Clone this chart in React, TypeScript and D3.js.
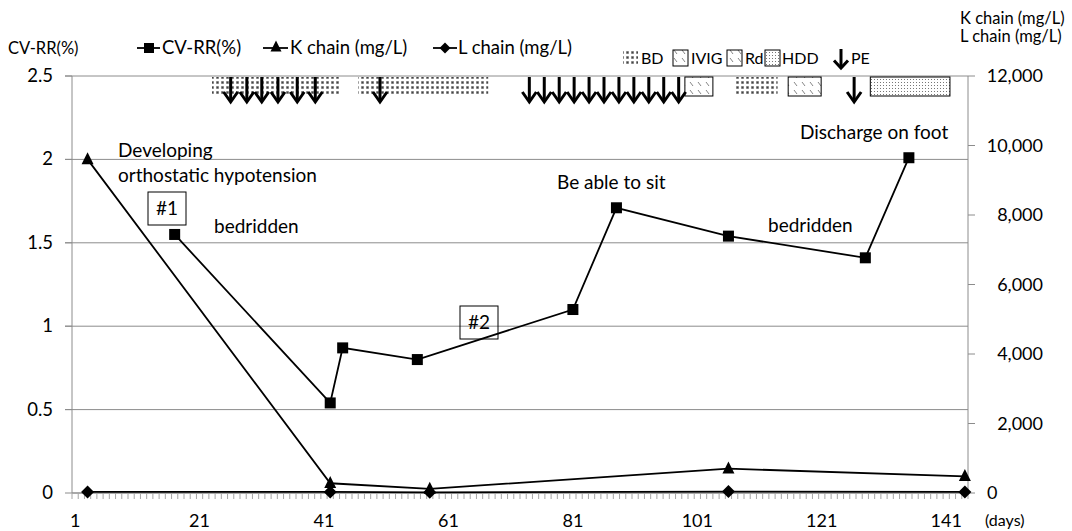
import React from 'react';
import * as d3 from 'd3';

// CV-RR (%), left axis
const cvDays = [17, 42, 44, 56, 81, 88, 106, 128, 135];
const cvValues = [1.55, 0.54, 0.87, 0.8, 1.1, 1.71, 1.54, 1.41, 2.01];

// light chains (mg/L), right axis
const chainDays = [3, 42, 58, 106, 144];
const kValues = [9600, 280, 120, 700, 480];
const lValues = [30, 30, 20, 40, 30];

const dayCount = 144;
const xTicks = [1, 21, 41, 61, 81, 101, 121, 141];
const leftTicks = [0, 0.5, 1, 1.5, 2, 2.5];
const rightTicks = [0, 2000, 4000, 6000, 8000, 10000, 12000];

// treatments (days)
const peDays = [26, 28.6, 31, 33.6, 36.7, 39.6, 50, 74, 76.4, 78.8, 81.2, 83.6, 86, 88.4, 90.8, 93.2, 95.6, 98, 126.2];
const bdPeriods: [number, number][] = [[23, 43.6], [46.5, 67.4], [107, 113.9]];
const ivigPeriods: [number, number][] = [[99, 103.5]];
const rdPeriods: [number, number][] = [[115.6, 120.9]];
const hddPeriods: [number, number][] = [[128.8, 141.6]];

const W = 1072;
const H = 531;
const FONT = 'Lato, "Open Sans", sans-serif';

const x = d3.scaleLinear().domain([0.5, dayCount + 0.5]).range([72, 968]);
const yL = d3.scaleLinear().domain([0, 2.5]).range([493, 76]);
const yR = d3.scaleLinear().domain([0, 12000]).range([493, 76]);

const fmt = d3.format(',');

function Arrow({ cx, top, bottom }: { cx: number; top: number; bottom: number }) {
  const head = (bottom - top) * 0.4;
  return (
    <g stroke="#000" strokeWidth={3} fill="none">
      <line x1={cx} x2={cx} y1={top} y2={bottom - 1} />
      <path d={`M${cx - 7},${bottom - head} L${cx},${bottom} L${cx + 7},${bottom - head}`} strokeLinejoin="miter" />
    </g>
  );
}

const square = (cx: number, cy: number, s = 11) => (
  <rect x={cx - s / 2} y={cy - s / 2} width={s} height={s} fill="#000" />
);
const triangle = (cx: number, cy: number, s = 12) => (
  <path d={`M${cx},${cy - s * 0.6} L${cx + s / 2},${cy + s * 0.4} L${cx - s / 2},${cy + s * 0.4} Z`} fill="#000" />
);
const diamond = (cx: number, cy: number, s = 13) => (
  <path d={`M${cx},${cy - s / 2} L${cx + s / 2},${cy} L${cx},${cy + s / 2} L${cx - s / 2},${cy} Z`} fill="#000" />
);

export default function App() {
  const line = d3.line<[number, number]>().x(d => d[0]).y(d => d[1]);
  const cvPts = cvDays.map((d, i) => [x(d), yL(cvValues[i])] as [number, number]);
  const kPts = chainDays.map((d, i) => [x(d), yR(kValues[i])] as [number, number]);
  const lPts = chainDays.map((d, i) => [x(d), yR(lValues[i])] as [number, number]);
  const minor = d3.range(0.5, dayCount + 1, 1);
  const barTop = 77;
  const barBottom = 96;

  return (
    <svg width={W} height={H} style={{ display: 'block', position: 'absolute', left: 0, top: 0, fontFamily: FONT }}>
      <defs>
        <pattern id="bd" width={5} height={5} patternUnits="userSpaceOnUse">
          <rect x={1} y={1} width={3} height={3} fill="#bbb" />
          <rect x={1.5} y={1.5} width={2} height={2} fill="#444" />
        </pattern>
        <pattern id="hatch" width={8} height={8} patternUnits="userSpaceOnUse">
          <line x1={2} y1={2} x2={5} y2={6} stroke="#666" strokeWidth={0.8} />
        </pattern>
        <pattern id="hdd" width={3} height={3} patternUnits="userSpaceOnUse">
          <rect x={1} y={1} width={1} height={1} fill="#777" />
        </pattern>
      </defs>
      <rect width={W} height={H} fill="#fff" />

      {/* gridlines */}
      {leftTicks.filter(t => t > 0).map(t => (
        <line key={t} x1={65} x2={968} y1={yL(t)} y2={yL(t)} stroke="#8c8c8c" strokeWidth={1} />
      ))}
      {/* axes */}
      <line x1={72} x2={72} y1={76} y2={493} stroke="#8c8c8c" />
      <line x1={968} x2={968} y1={76} y2={493} stroke="#8c8c8c" />
      {leftTicks.map(t => (
        <g key={t}>
          <line x1={65} x2={72} y1={yL(t)} y2={yL(t)} stroke="#8c8c8c" />
          <text x={53} y={yL(t) + 6} textAnchor="end" fontSize={18.5}>{t}</text>
        </g>
      ))}
      {rightTicks.map(t => (
        <g key={t}>
          <line x1={968} x2={975} y1={yR(t)} y2={yR(t)} stroke="#8c8c8c" />
          <text x={t === 0 ? 987 : 1043} y={yR(t) + 6} textAnchor={t === 0 ? 'start' : 'end'} fontSize={18}>{fmt(t)}</text>
        </g>
      ))}
      <line x1={72} x2={968} y1={493} y2={493} stroke="#8c8c8c" strokeWidth={1.5} />
      {minor.map(m => (
        <line key={m} x1={x(m)} x2={x(m)} y1={493} y2={499} stroke="#a6a6a6" />
      ))}
      {xTicks.map(t => (
        <text key={t} x={x(t)} y={527} textAnchor="middle" fontSize={18}>{t}</text>
      ))}
      <text x={985} y={526} fontSize={16}>(days)</text>

      {/* treatments */}
      {bdPeriods.map(([a, b], i) => (
        <rect key={'bd' + i} x={x(a)} y={barTop} width={x(b) - x(a)} height={barBottom - barTop} fill="url(#bd)" />
      ))}
      {[...ivigPeriods, ...rdPeriods].map(([a, b], i) => (
        <rect key={'h' + i} x={x(a)} y={barTop} width={x(b) - x(a)} height={barBottom - barTop} fill="url(#hatch)" stroke="#000" strokeWidth={1} />
      ))}
      {hddPeriods.map(([a, b], i) => (
        <rect key={'hdd' + i} x={x(a)} y={barTop} width={x(b) - x(a)} height={barBottom - barTop} fill="url(#hdd)" stroke="#000" strokeWidth={1} />
      ))}
      {peDays.map((d, i) => <Arrow key={i} cx={x(d)} top={77} bottom={102} />)}

      {/* series */}
      <path d={line(kPts) || ''} fill="none" stroke="#000" strokeWidth={1.8} />
      <path d={line(lPts) || ''} fill="none" stroke="#000" strokeWidth={1.8} />
      <path d={line(cvPts) || ''} fill="none" stroke="#000" strokeWidth={1.8} />
      {kPts.map((p, i) => <g key={'k' + i}>{triangle(p[0], p[1])}</g>)}
      {lPts.map((p, i) => <g key={'l' + i}>{diamond(p[0], p[1])}</g>)}
      {cvPts.map((p, i) => <g key={'c' + i}>{square(p[0], p[1])}</g>)}

      {/* annotations */}
      <g fontSize={19}>
        <text x={118} y={157}>Developing</text>
        <text x={118} y={182}>orthostatic hypotension</text>
        <rect x={148} y={192} width={38} height={33} fill="#fff" stroke="#000" />
        <text x={167} y={215} textAnchor="middle">#1</text>
        <text x={214} y={233}>bedridden</text>
        <text x={557} y={189}>Be able to sit</text>
        <rect x={460} y={306} width={38} height={33} fill="none" stroke="#000" />
        <text x={479} y={329} textAnchor="middle">#2</text>
        <text x={768} y={232}>bedridden</text>
        <text x={800} y={139}>Discharge on foot</text>
      </g>

      {/* titles & legend */}
      <text x={8} y={54} fontSize={16.5}>CV-RR(%)</text>
      <text x={960} y={24} fontSize={16.5}>K chain (mg/L)</text>
      <text x={960} y={42} fontSize={16.5}>L chain (mg/L)</text>
      <g fontSize={18.5}>
        <line x1={137} x2={160} y1={48} y2={48} stroke="#000" strokeWidth={1.8} />
        {square(149, 48, 10)}
        <text x={162} y={54}>CV-RR(%)</text>
        <line x1={263} x2={288} y1={48} y2={48} stroke="#000" strokeWidth={1.8} />
        {triangle(276, 47, 11)}
        <text x={290} y={54}>K chain (mg/L)</text>
        <line x1={433} x2={457} y1={48} y2={48} stroke="#000" strokeWidth={1.8} />
        {diamond(445, 48, 11)}
        <text x={458} y={54}>L chain (mg/L)</text>
      </g>
      <g fontSize={16}>
        <rect x={623} y={50} width={15} height={16} fill="url(#bd)" />
        <text x={641} y={64}>BD</text>
        <rect x={673} y={50} width={15} height={16} fill="url(#hatch)" stroke="#000" />
        <text x={691} y={64}>IVIG</text>
        <rect x={727} y={50} width={15} height={16} fill="url(#hatch)" stroke="#000" />
        <text x={745} y={64}>Rd</text>
        <rect x={765} y={50} width={15} height={16} fill="url(#hdd)" stroke="#000" />
        <text x={782} y={64}>HDD</text>
        <Arrow cx={841} top={49} bottom={68} />
        <text x={851} y={64}>PE</text>
      </g>
    </svg>
  );
}
